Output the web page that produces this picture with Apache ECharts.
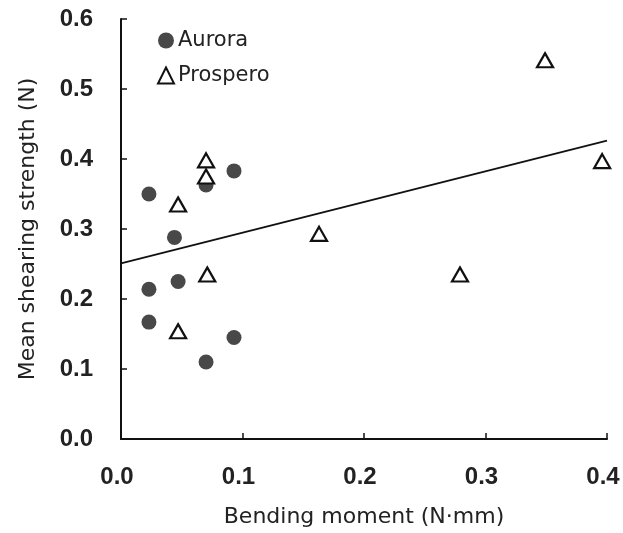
<!DOCTYPE html>
<html>
<head>
<meta charset="utf-8">
<script src="https://cdn.jsdelivr.net/npm/echarts@6/dist/echarts.min.js"></script>
<style>html,body{margin:0;padding:0;background:#fff}#c{width:623px;height:533px}</style>
</head>
<body>
<div id="c"></div>
<script>
const auroraX = [0.023, 0.044, 0.070, 0.093, 0.023, 0.047, 0.023, 0.093, 0.070];
const auroraY = [0.350, 0.288, 0.363, 0.383, 0.214, 0.225, 0.167, 0.145, 0.110];
const prosperoX = [0.070, 0.070, 0.047, 0.071, 0.047, 0.349, 0.396, 0.163, 0.279];
const prosperoY = [0.398, 0.375, 0.335, 0.235, 0.154, 0.541, 0.397, 0.293, 0.235];
const fitIntercept = 0.251;
const fitSlope = 0.438;
const fitRange = [0, 0.4];
const xTicks = ['0.0', '0.1', '0.2', '0.3', '0.4'];
const yTicks = ['0.0', '0.1', '0.2', '0.3', '0.4', '0.5', '0.6'];

const font = 'DejaVu Sans, Verdana, sans-serif';
const tickFont = 'Liberation Sans, Arial, sans-serif';
const chart = echarts.init(document.getElementById('c'));
chart.setOption({
  animation: false,
  backgroundColor: '#fff',
  grid: { left: 121, right: 16, top: 19, bottom: 92 },
  legend: {
    orient: 'vertical', left: 152, top: 25, itemGap: 14, itemWidth: 16, itemHeight: 16,
    textStyle: { fontFamily: font, fontSize: 21, color: '#222', padding: [0, 0, 0, -1] },
    data: ['Aurora', 'Prospero']
  },
  xAxis: {
    type: 'value', min: 0, max: 0.4, interval: 0.1,
    name: 'Bending moment (N\u00b7mm)', nameLocation: 'middle', nameGap: 67,
    nameTextStyle: { fontFamily: font, fontSize: 22, color: '#222' },
    axisLine: { lineStyle: { color: '#111', width: 2 } },
    axisTick: { inside: true, length: 6, lineStyle: { color: '#111', width: 1.5 } },
    axisLabel: { margin: 26, fontFamily: tickFont, fontSize: 24, fontWeight: 'bold', color: '#222',
      padding: [0, 8, 0, 0],
      formatter: (v) => xTicks[Math.round(v * 10)] },
    splitLine: { show: false }
  },
  yAxis: {
    type: 'value', min: 0, max: 0.6, interval: 0.1,
    name: 'Mean shearing strength (N)', nameLocation: 'middle', nameGap: 82,
    nameTextStyle: { fontFamily: font, fontSize: 22, color: '#222' },
    axisLine: { lineStyle: { color: '#111', width: 2 } },
    axisTick: { inside: true, length: 6, lineStyle: { color: '#111', width: 1.5 } },
    axisLabel: { margin: 28, fontFamily: tickFont, fontSize: 24, fontWeight: 'bold', color: '#222',
      formatter: (v) => yTicks[Math.round(v * 10)] },
    splitLine: { show: false }
  },
  series: [
    {
      name: 'Fit', type: 'line', symbol: 'none', silent: true,
      lineStyle: { color: '#111', width: 1.8 },
      data: fitRange.map(x => [x, fitIntercept + fitSlope * x])
    },
    {
      name: 'Aurora', type: 'scatter', symbol: 'circle', symbolSize: 15,
      itemStyle: { color: '#484848', opacity: 1 },
      data: auroraX.map((x, i) => [x, auroraY[i]])
    },
    {
      name: 'Prospero', type: 'scatter', symbol: 'triangle', symbolSize: [16, 14],
      itemStyle: { color: '#fff', borderColor: '#111', borderWidth: 2.2, opacity: 1 },
      data: prosperoX.map((x, i) => [x, prosperoY[i]])
    }
  ]
});
</script>
</body>
</html>
